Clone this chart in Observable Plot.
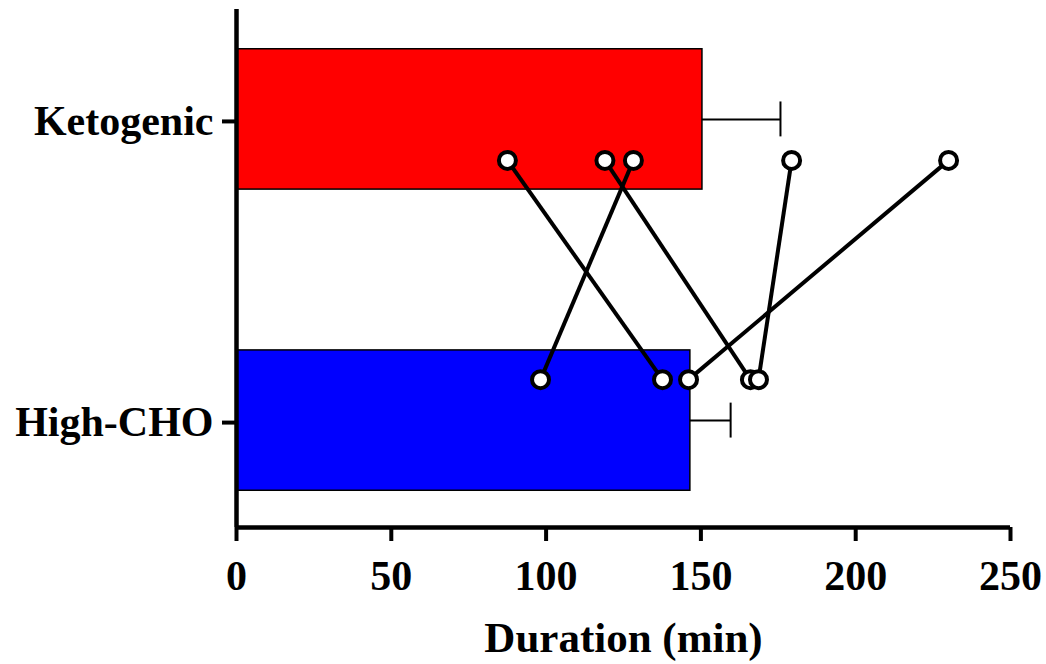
<!DOCTYPE html>
<html>
<head>
<meta charset="utf-8">
<script src="https://cdn.jsdelivr.net/npm/d3@7"></script>
<script src="https://cdn.jsdelivr.net/npm/@observablehq/plot@0.6"></script>
<style>
  html, body { margin: 0; padding: 0; background: #fff; }
  #chart svg { display: block; }
</style>
</head>
<body>
<div id="chart"></div>
<script>
// ---- data ----
const groups = ["Ketogenic", "High-CHO"];
const groupPos = [1, 0];                 // row index on the y scale
const groupColors = ["#ff0000", "#0000ff"];
const means = [150.5, 146.6];
const sdUpper = [25.2, 13.0];
const ketoValues = [87.5, 119, 128.2, 179.3, 230];
const hchoValues = [137.6, 166, 98.2, 168.6, 146];
const xTicks = [0, 50, 100, 150, 200, 250];

// ---- layout constants (not data) ----
const barHalf = 0.233;
const ptOffset = 0.136;
const capHalf = 0.058;

const bars = groups.map((g, i) => ({
  group: g, pos: groupPos[i], mean: means[i], err: means[i] + sdUpper[i], color: groupColors[i]
}));
const pairs = ketoValues.map((k, i) => ({
  k, h: hchoValues[i],
  yk: groupPos[0] - ptOffset,
  yh: groupPos[1] + ptOffset
}));
const points = pairs.flatMap(p => [{x: p.k, y: p.yk}, {x: p.h, y: p.yh}]);

const font = "'Liberation Serif', 'Times New Roman', serif";

const chart = Plot.plot({
  width: 1046,
  height: 664,
  marginLeft: 236,
  marginRight: 36,
  marginTop: 9,
  marginBottom: 137,
  style: {fontFamily: font, background: "#fff"},
  x: {domain: [0, 250], axis: null},
  y: {domain: [-0.355, 1.365], axis: null},
  marks: [
    Plot.rectX(bars, {
      x1: 0, x2: "mean",
      y1: d => d.pos - barHalf, y2: d => d.pos + barHalf,
      fill: "color", stroke: "#000", strokeWidth: 1.5
    }),
    Plot.ruleY(bars, {y: "pos", x1: "mean", x2: "err", stroke: "#000", strokeWidth: 2}),
    Plot.ruleX(bars, {x: "err", y1: d => d.pos - capHalf, y2: d => d.pos + capHalf, stroke: "#000", strokeWidth: 2}),
    Plot.link(pairs, {x1: "k", y1: "yk", x2: "h", y2: "yh", stroke: "#000", strokeWidth: 4}),
    Plot.dot(points, {x: "x", y: "y", r: 8.5, fill: "#fff", stroke: "#000", strokeWidth: 4}),
    // axis lines
    Plot.ruleX([0], {stroke: "#000", strokeWidth: 4.5}),
    Plot.ruleY([-0.355], {stroke: "#000", strokeWidth: 4.5, x1: 0, x2: 250}),
    Plot.axisX({
      ticks: xTicks, tickSize: 14, tickPadding: 19,
      stroke: "#000", strokeWidth: 4,
      fontSize: 42, fontWeight: "bold", fill: "#000",
      label: null
    }),
    Plot.axisY({
      ticks: groupPos, tickFormat: d => groups[groupPos.indexOf(d)],
      tickSize: 14, tickPadding: 9,
      stroke: "#000", strokeWidth: 4,
      fontSize: 42, fontWeight: "bold", fill: "#000",
      dy: 2,
      label: null
    }),
    Plot.text(["Duration (min)"], {
      frameAnchor: "bottom", dy: 124,
      fontSize: 43, fontWeight: "bold", fill: "#000"
    })
  ]
});

document.getElementById("chart").appendChild(chart);
</script>
</body>
</html>
